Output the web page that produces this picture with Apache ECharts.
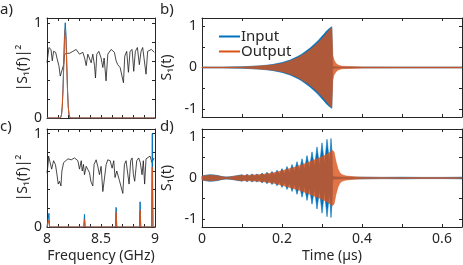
<!DOCTYPE html>
<html><head><meta charset="utf-8">
<script src="https://cdn.jsdelivr.net/npm/echarts@6/dist/echarts.min.js"></script>
<style>html,body{margin:0;padding:0;background:#fff}#c{width:463px;height:265px}</style>
</head><body><div id="c"></div>
<script>
// ---------- Panel a: spectrum (input single tone) ----------
const freqBlackA = [8.000,8.018,8.037,8.049,8.061,8.080,8.092,8.110,8.123,8.141,8.154,8.163,8.184,8.209,8.240,8.270,8.301,8.317,8.332,8.348,8.363,8.378,8.394,8.409,8.424,8.440,8.449,8.461,8.480,8.501,8.517,8.529,8.547,8.563,8.594,8.609,8.624,8.640,8.655,8.677,8.695,8.708,8.720,8.738,8.754,8.769,8.788,8.803,8.818,8.837,8.855,8.871,8.886,8.904,8.917,8.932,8.948,8.966,8.978,8.994];
const blackA     = [0.58,0.74,0.72,0.60,0.70,0.69,0.63,0.55,0.44,0.46,0.56,0.67,0.68,0.68,0.70,0.72,0.67,0.65,0.69,0.63,0.55,0.67,0.65,0.58,0.67,0.55,0.42,0.67,0.70,0.63,0.53,0.63,0.39,0.67,0.72,0.70,0.69,0.60,0.56,0.53,0.51,0.37,0.65,0.70,0.48,0.70,0.72,0.49,0.70,0.74,0.56,0.70,0.74,0.72,0.46,0.70,0.69,0.72,0.74,0.69];
const freqSpecA  = [8.000,8.124,8.134,8.141,8.148,8.155,8.162,8.169,8.176,8.183,8.190,8.197,8.204,8.214,9.000];
const inSpecA    = [0,0,0.035,0.12,0.30,0.58,0.87,1.00,0.87,0.58,0.30,0.12,0.035,0,0];
const outSpecA   = [0,0,0.03,0.11,0.28,0.54,0.81,0.93,0.81,0.54,0.28,0.11,0.03,0,0];

// ---------- Panel c: spectrum (input comb) ----------
const freqBlackC = [8.000,8.009,8.015,8.024,8.043,8.061,8.078,8.090,8.104,8.116,8.129,8.138,8.154,8.172,8.194,8.224,8.255,8.286,8.301,8.317,8.326,8.338,8.347,8.363,8.372,8.394,8.406,8.424,8.436,8.455,8.470,8.486,8.501,8.517,8.548,8.563,8.585,8.603,8.618,8.630,8.646,8.668,8.702,8.717,8.732,8.748,8.760,8.775,8.788,8.800,8.812,8.831,8.849,8.864,8.880,8.892,8.904,8.917,8.935,8.954,8.972,8.991];
const blackC     = [0.58,0.66,0.76,0.74,0.62,0.71,0.67,0.58,0.46,0.49,0.44,0.60,0.69,0.71,0.73,0.72,0.74,0.71,0.62,0.71,0.60,0.67,0.56,0.65,0.67,0.58,0.49,0.44,0.67,0.72,0.65,0.56,0.65,0.38,0.67,0.72,0.71,0.63,0.71,0.53,0.60,0.51,0.36,0.67,0.71,0.73,0.46,0.71,0.74,0.56,0.49,0.71,0.74,0.69,0.56,0.71,0.46,0.73,0.71,0.76,0.69,0.74];
const freqSpecC  = [8.000,8.012,8.018,8.024,8.341,8.347,8.353,8.634,8.640,8.646,8.856,8.862,8.868,8.969,8.975,8.981,9.000];
const inSpecC    = [0,0,0.146,0,0,0.135,0,0,0.21,0,0,0.27,0,0,1.00,0,0];
const outSpecC   = [0,0,0.073,0,0,0.08,0,0,0.157,0,0,0.18,0,0,0.64,0,0];

// ---------- Panel b: time signal envelopes (single tone) ----------
const timeB   = [0,0.05,0.1,0.125,0.15,0.175,0.2,0.22,0.24,0.25,0.26,0.27,0.28,0.29,0.3,0.305,0.31,0.315,0.32,0.3245,0.327,0.33,0.335,0.34,0.35,0.4,0.5,0.65];
const inEnvB  = [0.01,0.01,0.02,0.03,0.045,0.07,0.12,0.18,0.27,0.33,0.40,0.47,0.56,0.65,0.76,0.81,0.87,0.92,0.96,0.99,0.03,0.02,0.02,0.015,0.01,0.01,0.01,0.01];
const outEnvB = [0.01,0.01,0.015,0.025,0.04,0.06,0.10,0.16,0.24,0.30,0.36,0.43,0.51,0.60,0.70,0.75,0.81,0.87,0.93,0.97,0.30,0.18,0.10,0.06,0.03,0.015,0.01,0.01];

// ---------- Panel d: time signal envelopes (comb) ----------
const timeInD = [0,0.01,0.02,0.03,0.04,0.05,0.06,0.07,0.08,0.09,
  0.1,0.10625,0.1125,0.11875,0.125,0.13125,0.1375,0.14375,0.15,0.15625,0.1625,0.16875,0.175,0.18125,0.1875,0.19375,
  0.2,0.20625,0.2125,0.21875,0.225,0.23125,0.2375,0.24375,0.25,0.25625,0.2625,0.26875,0.275,0.28125,0.2875,0.29375,
  0.3,0.30625,0.3125,0.31875,0.3225,0.325,0.327,0.33,0.35,0.4,0.45,0.5,0.55,0.6,0.65];
const inEnvD  = [0.05,0.07,0.08,0.075,0.06,0.035,0.025,0.03,0.045,0.06,
  0.08,0.04,0.09,0.045,0.10,0.05,0.10,0.05,0.12,0.06,0.14,0.07,0.16,0.08,0.19,0.10,
  0.23,0.11,0.28,0.13,0.33,0.16,0.40,0.18,0.47,0.21,0.55,0.24,0.64,0.27,0.76,0.30,
  0.86,0.33,0.95,0.37,0.97,0.62,0.05,0.03,0.02,0.02,0.015,0.02,0.015,0.015,0.02];
const timeOutD = [0,0.01,0.02,0.03,0.04,0.05,0.06,0.07,0.08,0.09,0.1,0.12,0.14,0.16,0.18,0.2,0.22,0.24,0.26,0.28,0.3,0.31,0.32,0.325,0.33,0.335,0.34,0.345,0.35,0.36,0.37,0.38,0.4,0.45,0.5,0.55,0.6,0.65];
const outEnvD  = [0.04,0.06,0.07,0.065,0.05,0.03,0.02,0.025,0.04,0.055,0.065,0.07,0.08,0.10,0.13,0.18,0.23,0.29,0.36,0.44,0.52,0.57,0.63,0.68,0.64,0.40,0.22,0.12,0.08,0.05,0.04,0.03,0.02,0.015,0.012,0.012,0.01,0.01];

// ---------- ticks / labels ----------
const freqTicks  = [8,8.1,8.2,8.3,8.4,8.5,8.6,8.7,8.8,8.9,9];
const freqLabels = [8,8.5,9];
const specYTicks = [0,0.2,0.4,0.6,0.8,1];
const specYLabels= [0,1];
const timeTicks  = [0,0.1,0.2,0.3,0.4,0.5,0.6];
const timeLabels = [0,0.2,0.4,0.6];
const sigYTicks  = [-1,-0.5,0,0.5,1];
const sigYLabels = [-1,0,1];

const GRAY = '#262626', FONT = 'Noto Sans';
const BLUE = '#0072BD', ORANGE = '#D95319';
const fmt = v => String(Math.round(v * 100) / 100);

function ax(kind, g, pos, min, max, ticks, labels, name, nameGap) {
  return {
    type: 'value', gridIndex: g, position: pos, min: min, max: max,
    axisLine: { show: true, onZero: false, lineStyle: { color: GRAY, width: 1 } },
    axisTick: { show: true, inside: true, length: 3, customValues: ticks, lineStyle: { color: GRAY, width: 1 } },
    axisLabel: { show: !!labels, customValues: labels || [], formatter: fmt, color: GRAY, fontSize: 14, fontFamily: FONT, margin: 5 },
    splitLine: { show: false },
    name: name || '', nameLocation: 'middle', nameGap: nameGap || 20,
    nameRotate: kind === 'y' ? 90 : 0,
    nameTextStyle: { color: GRAY, fontSize: 14, fontFamily: FONT }
  };
}

const grids = [
  { left: 47, top: 18, width: 108, height: 100 },
  { left: 202, top: 18, width: 260, height: 99 },
  { left: 47, top: 129, width: 108, height: 98 },
  { left: 202, top: 129, width: 260, height: 98 }
];

const xAxis = [
  ax('x', 0, 'bottom', 8, 9, freqTicks, null), ax('x', 0, 'top', 8, 9, freqTicks, null),
  ax('x', 1, 'bottom', 0, 0.65, timeTicks, null), ax('x', 1, 'top', 0, 0.65, timeTicks, null),
  ax('x', 2, 'bottom', 8, 9, freqTicks, freqLabels, 'Frequency (GHz)', 22), ax('x', 2, 'top', 8, 9, freqTicks, null),
  ax('x', 3, 'bottom', 0, 0.65, timeTicks, timeLabels, 'Time (µs)', 22), ax('x', 3, 'top', 0, 0.65, timeTicks, null)
];
const yAxis = [
  ax('y', 0, 'left', 0, 1.05, specYTicks, specYLabels, '|S₁(f)|²', 16), ax('y', 0, 'right', 0, 1.05, specYTicks, null),
  ax('y', 1, 'left', -1.2, 1.2, sigYTicks, sigYLabels, 'S₁(t)', 18), ax('y', 1, 'right', -1.2, 1.2, sigYTicks, null),
  ax('y', 2, 'left', 0, 1.05, specYTicks, specYLabels, '|S₁(f)|²', 16), ax('y', 2, 'right', 0, 1.05, specYTicks, null),
  ax('y', 3, 'left', -1.2, 1.2, sigYTicks, sigYLabels, 'S₁(t)', 18), ax('y', 3, 'right', -1.2, 1.2, sigYTicks, null)
];

function lineS(name, g, xs, ys, color, w) {
  return {
    type: 'line', name: name, xAxisIndex: 2 * g, yAxisIndex: 2 * g,
    data: xs.map((x, i) => [x, ys[i]]), showSymbol: false, symbol: 'none',
    lineStyle: { color: color, width: w }, itemStyle: { color: color }, animation: false
  };
}
function bandS(name, g, ts, amp, color, opacity) {
  return {
    type: 'custom', name: name, xAxisIndex: 2 * g, yAxisIndex: 2 * g,
    data: ts.map((t, i) => [t, amp[i]]), encode: { x: 0, y: 1 },
    itemStyle: { color: color }, animation: false,
    renderItem: function (params, api) {
      if (params.dataIndex !== 0) return;
      const up = ts.map((t, i) => api.coord([t, amp[i]]));
      const lo = ts.map((t, i) => api.coord([t, -amp[i]])).reverse();
      return { type: 'polygon', shape: { points: up.concat(lo) },
        style: { fill: color, stroke: color, lineWidth: 0.6, opacity: opacity } };
    }
  };
}

const series = [
  lineS('Ta', 0, freqBlackA, blackA, '#1a1a1a', 0.8),
  lineS('Input', 0, freqSpecA, inSpecA, BLUE, 1),
  lineS('Output', 0, freqSpecA, outSpecA, ORANGE, 1),
  bandS('Input', 1, timeB, inEnvB, BLUE, 1),
  bandS('Output', 1, timeB, outEnvB, ORANGE, 0.8),
  lineS('Tc', 2, freqBlackC, blackC, '#1a1a1a', 0.8),
  lineS('Input', 2, freqSpecC, inSpecC, BLUE, 1),
  lineS('Output', 2, freqSpecC, outSpecC, ORANGE, 1),
  bandS('Input', 3, timeInD, inEnvD, BLUE, 1),
  bandS('Output', 3, timeOutD, outEnvD, ORANGE, 0.8)
];

const panelText = (t, l, tp) => ({ type: 'text', left: l, top: tp, style: { text: t, fill: GRAY, font: '15px "Noto Sans"' } });

const chart = echarts.init(document.getElementById('c'), null, { renderer: 'canvas' });
chart.setOption({
  animation: false,
  backgroundColor: '#fff',
  grid: grids,
  xAxis: xAxis,
  yAxis: yAxis,
  series: series,
  legend: {
    data: [{ name: 'Input', icon: 'rect' }, { name: 'Output', icon: 'rect' }],
    orient: 'vertical', left: 214, top: 24, itemWidth: 21, itemHeight: 2, itemGap: 0,
    selectedMode: false,
    textStyle: { fontSize: 15, color: GRAY, fontFamily: FONT, padding: [0, 0, 0, -4], lineHeight: 15 }
  },
  graphic: [panelText('a)', 0, 2), panelText('b)', 160, 2), panelText('c)', 0, 119), panelText('d)', 160, 119)]
});
</script></body></html>
